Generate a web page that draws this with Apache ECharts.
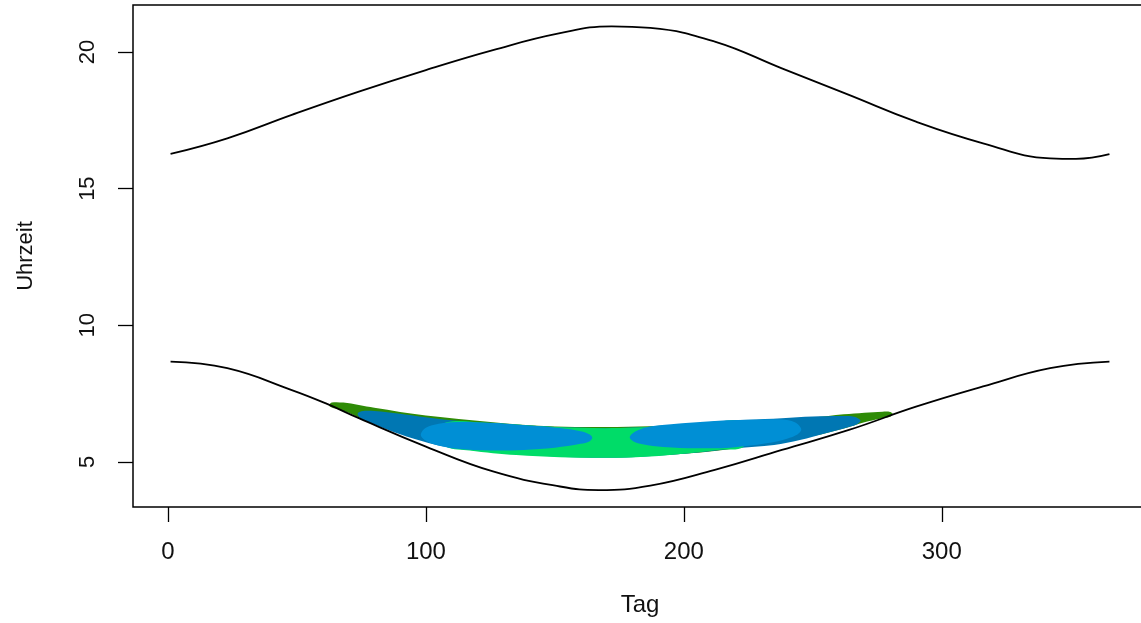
<!DOCTYPE html>
<html>
<head>
<meta charset="utf-8">
<script src="https://cdn.jsdelivr.net/npm/echarts@6/dist/echarts.min.js"></script>
<style>html,body{margin:0;padding:0;background:#fff;overflow:hidden;}#chart{width:1160px;height:623px;}</style>
</head>
<body>
<div id="chart"></div>
<script>
// Tick labels
var xTicks = [0, 100, 200, 300];
var yTicks = [5, 10, 15, 20];

// Sunset curve (Tag, Uhrzeit)
var sunsetDays   = [1, 23, 48, 74, 100, 126, 152, 172, 187, 212, 238, 264, 290, 316, 342, 352, 365];
var sunsetValues = [16.27, 16.84, 17.70, 18.55, 19.34, 20.07, 20.69, 20.94, 20.88, 20.38, 19.40, 18.43, 17.45, 16.66, 16.11, 16.09, 16.26];

// Sunrise curve (Tag, Uhrzeit)
var sunriseDays   = [1, 23, 48, 61, 74, 100, 126, 152, 167, 187, 212, 238, 264, 290, 316, 342, 365];
var sunriseValues = [8.67, 8.43, 7.63, 7.15, 6.60, 5.56, 4.65, 4.10, 3.97, 4.13, 4.71, 5.44, 6.17, 7.02, 7.76, 8.43, 8.67];

// Coloured regions: outline points [Tag, Uhrzeit]
var darkGreenShape = [[62.5,7.05],[63.5,7.17],[68,7.17],[74,7.08],[80,6.98],[100,6.7],[150,6.3],[200,6.35],[250,6.62],[262,6.74],[270,6.8],[277,6.84],[280,6.83],[281,6.75],[280,6.65],[276,6.58],[270,6.45],[262,6.22],[250,5.95],[200,5.3],[150,5.3],[100,5.8],[85,6.25],[76,6.55],[70,6.8],[65,6.95]];
var darkBlueShape = [[73.5,6.75],[75,6.85],[80,6.86],[90,6.76],[97.5,6.66],[110,6.52],[123,6.42],[150,6.28],[175,6.24],[200,6.36],[212,6.48],[238,6.6],[250,6.66],[262,6.68],[266,6.65],[268.5,6.52],[267.5,6.4],[264,6.28],[255,6.05],[245,5.8],[235,5.62],[220,5.5],[200,5.3],[170,5.15],[140,5.25],[115,5.45],[105,5.6],[97,5.8],[88,6.08],[80,6.38],[75,6.58]];
var brightGreenShape = [[104,6.0],[108,6.45],[123,6.43],[150,6.28],[175,6.24],[200,6.36],[212,6.47],[222,6.5],[224,6.2],[223,5.55],[215,5.45],[200,5.3],[187,5.2],[172,5.15],[152,5.17],[135,5.25],[126,5.32],[117,5.42],[108,5.55]];
var lightBlueLeft = [[98,6.0],[100,6.25],[105,6.4],[112,6.46],[125,6.43],[140,6.33],[152,6.24],[160,6.12],[163.5,6.0],[164.5,5.88],[163.5,5.76],[160,5.66],[150,5.52],[138,5.44],[125,5.42],[112,5.48],[104,5.62],[99.5,5.8]];
var lightBlueRight = [[179,5.9],[181,6.1],[186,6.28],[195,6.38],[212,6.5],[230,6.55],[238,6.55],[243,6.45],[245.5,6.2],[244,6.0],[240,5.85],[232,5.68],[218,5.52],[205,5.5],[192,5.55],[184,5.65],[180.5,5.75]];

function pairs(xs, ys) { return xs.map(function (x, i) { return [x, ys[i]]; }); }

function polygonSeries(shape, color) {
  return {
    type: 'custom',
    data: shape,
    silent: true,
    z: 2,
    renderItem: function (params, api) {
      if (params.dataIndex !== 0) return null;
      var pts = shape.map(function (p) { return api.coord(p); });
      return {
        type: 'polygon',
        shape: { points: pts, smooth: 0.35 },
        style: { fill: color, stroke: null }
      };
    }
  };
}

var font = "'Liberation Sans', Arial, Helvetica, sans-serif";
var chart = echarts.init(document.getElementById('chart'), null, { renderer: 'canvas' });
chart.setOption({
  animation: false,
  backgroundColor: '#ffffff',
  grid: {
    left: 133, top: 5, width: 1014, height: 502,
    show: true, borderColor: '#000', borderWidth: 1.5, backgroundColor: 'transparent',
    containLabel: false
  },
  xAxis: {
    type: 'value', min: -13.56, max: 379.56,
    name: 'Tag', nameLocation: 'middle', nameGap: 86,
    nameTextStyle: { fontFamily: font, fontSize: 24, color: '#111' },
    axisLine: { show: false, onZero: false },
    axisTick: { show: true, length: 15, inside: false, customValues: xTicks, lineStyle: { color: '#000', width: 1.3 } },
    axisLabel: { customValues: xTicks, fontFamily: font, fontSize: 24, color: '#111', margin: 33 },
    splitLine: { show: false }
  },
  yAxis: {
    type: 'value', min: 3.35, max: 21.72,
    name: 'Uhrzeit', nameLocation: 'middle', nameGap: 96,
    nameTextStyle: { fontFamily: font, fontSize: 22, color: '#111' },
    axisLine: { show: false, onZero: false },
    axisTick: { show: true, length: 15, inside: false, customValues: yTicks, lineStyle: { color: '#000', width: 1.3 } },
    axisLabel: { customValues: yTicks, fontFamily: font, fontSize: 22, color: '#111', rotate: 90, margin: 34 },
    splitLine: { show: false }
  },
  series: [
    polygonSeries(darkGreenShape, '#2e8b06'),
    polygonSeries(darkBlueShape, '#0077b3'),
    polygonSeries(brightGreenShape, '#00dc68'),
    polygonSeries(lightBlueLeft, '#008fd5'),
    polygonSeries(lightBlueRight, '#008fd5'),
    {
      type: 'line', data: pairs(sunsetDays, sunsetValues), smooth: 0.45, showSymbol: false, z: 5,
      lineStyle: { color: '#000', width: 1.8 }
    },
    {
      type: 'line', data: pairs(sunriseDays, sunriseValues), smooth: 0.45, showSymbol: false, z: 5,
      lineStyle: { color: '#000', width: 1.8 }
    }
  ]
});
</script>
</body>
</html>
